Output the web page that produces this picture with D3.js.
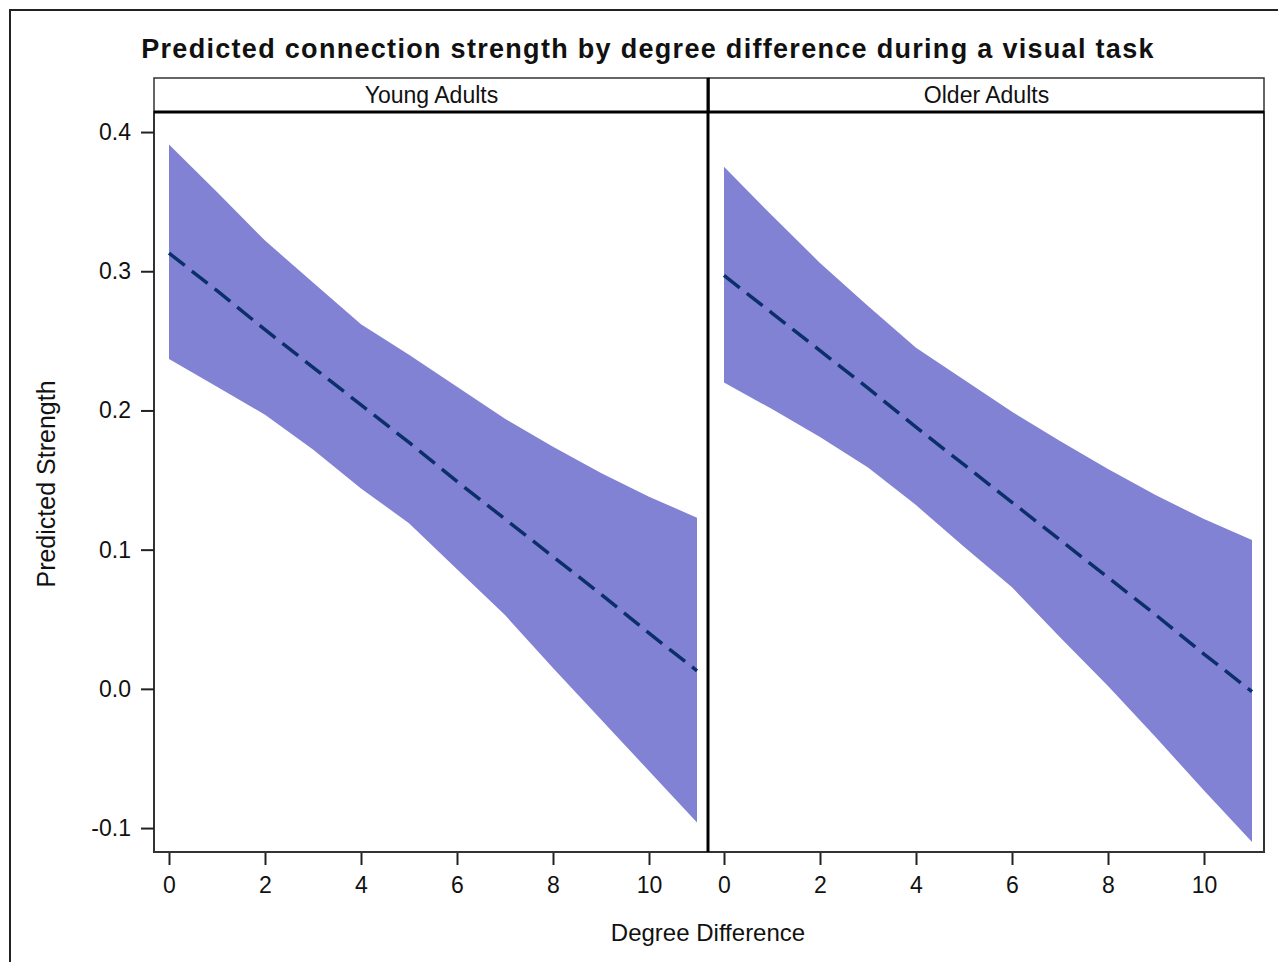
<!DOCTYPE html>
<html>
<head>
<meta charset="utf-8">
<script src="https://cdn.jsdelivr.net/npm/d3@7"></script>
<style>
  body { margin: 0; background: #fff; }
  svg text { font-family: "Liberation Sans", Arial, sans-serif; fill: #111; }
</style>
</head>
<body>
<div id="chart"></div>
<script>
// values, one per integer degree difference
const degrees = [0, 1, 2, 3, 4, 5, 6, 7, 8, 9, 10, 11];
const panelNames = ['Young Adults', 'Older Adults'];

const youngPred  = [0.313, 0.286, 0.258, 0.231, 0.204, 0.177, 0.149, 0.122, 0.095, 0.068, 0.040, 0.013];
const youngUpper = [0.391, 0.357, 0.322, 0.292, 0.262, 0.240, 0.217, 0.194, 0.174, 0.155, 0.138, 0.123];
const youngLower = [0.237, 0.217, 0.197, 0.172, 0.144, 0.119, 0.086, 0.053, 0.015, -0.022, -0.059, -0.096];

const olderPred  = [0.297, 0.270, 0.243, 0.216, 0.188, 0.161, 0.134, 0.107, 0.080, 0.053, 0.025, -0.002];
const olderUpper = [0.375, 0.340, 0.306, 0.275, 0.245, 0.222, 0.199, 0.178, 0.158, 0.139, 0.122, 0.107];
const olderLower = [0.220, 0.201, 0.181, 0.159, 0.132, 0.102, 0.073, 0.037, 0.002, -0.035, -0.073, -0.110];

const yTicks = [-0.1, 0.0, 0.1, 0.2, 0.3, 0.4];
const xTicks = [0, 2, 4, 6, 8, 10];

const W = 1278, H = 962;
const plotTop = 112, plotBottom = 852, stripTop = 78;
const panelX = [154, 709], panelW = 555;

const bandColor = '#8282d4';
const lineColor = '#0b2f6b';

const svg = d3.select('#chart').append('svg')
    .attr('width', W).attr('height', H);

// outer frame runs off the right and bottom of the picture
svg.append('rect')
    .attr('x', 10).attr('y', 10).attr('width', 1300).attr('height', 1000)
    .attr('fill', 'none').attr('stroke', '#222').attr('stroke-width', 2);

svg.append('text')
    .attr('x', 648).attr('y', 58)
    .attr('text-anchor', 'middle')
    .style('font-size', '27px').style('font-weight', 'bold')
    .style('letter-spacing', '1.3px')
    .text('Predicted connection strength by degree difference during a visual task');

const y = d3.scaleLinear().domain([-0.1172, 0.4144]).range([plotBottom, plotTop]);

const panels = [
  { name: panelNames[0], pred: youngPred, upper: youngUpper, lower: youngLower },
  { name: panelNames[1], pred: olderPred, upper: olderUpper, lower: olderLower }
];

panels.forEach((p, i) => {
  const x0 = panelX[i];
  const x = d3.scaleLinear().domain([-0.3125, 11.25]).range([x0, x0 + panelW]);
  const rows = degrees.map((d, k) => ({ d: d, pred: p.pred[k], hi: p.upper[k], lo: p.lower[k] }));

  const g = svg.append('g');

  g.append('path')
      .datum(rows)
      .attr('fill', bandColor)
      .attr('d', d3.area().x(r => x(r.d)).y0(r => y(r.lo)).y1(r => y(r.hi)));

  g.append('path')
      .datum(rows)
      .attr('fill', 'none')
      .attr('stroke', lineColor)
      .attr('stroke-width', 3.5)
      .attr('stroke-dasharray', '20,9')
      .attr('d', d3.line().x(r => x(r.d)).y(r => y(r.pred)));

  // x axis
  const xAxis = g.append('g')
      .attr('transform', `translate(0,${plotBottom})`)
      .call(d3.axisBottom(x).tickValues(xTicks).tickSize(13).tickSizeOuter(0).tickPadding(12));
  xAxis.select('.domain').remove();
  xAxis.selectAll('line').attr('stroke', '#222').attr('stroke-width', 2);
  xAxis.selectAll('text').style('font-size', '23px').attr('fill', '#111');

  // header strip
  g.append('rect')
      .attr('x', x0).attr('y', stripTop).attr('width', panelW).attr('height', plotTop - stripTop)
      .attr('fill', '#fff').attr('stroke', '#333').attr('stroke-width', 1.5);
  g.append('text')
      .attr('x', x0 + panelW / 2).attr('y', plotTop - 9)
      .attr('text-anchor', 'middle')
      .style('font-size', '23px')
      .text(p.name);
});

// plot frame
svg.append('rect')
    .attr('x', panelX[0]).attr('y', plotTop)
    .attr('width', panelW * 2).attr('height', plotBottom - plotTop)
    .attr('fill', 'none').attr('stroke', '#333').attr('stroke-width', 2);
svg.append('line')
    .attr('x1', panelX[0]).attr('x2', panelX[0] + panelW * 2)
    .attr('y1', plotTop).attr('y2', plotTop)
    .attr('stroke', '#000').attr('stroke-width', 3);
svg.append('line')
    .attr('x1', panelX[1] - 1).attr('x2', panelX[1] - 1)
    .attr('y1', stripTop).attr('y2', plotBottom)
    .attr('stroke', '#000').attr('stroke-width', 3);

// y axis
const yAxis = svg.append('g')
    .attr('transform', `translate(${panelX[0]},0)`)
    .call(d3.axisLeft(y).tickValues(yTicks).tickFormat(d => d.toFixed(1)).tickSize(13).tickSizeOuter(0).tickPadding(10));
yAxis.select('.domain').remove();
yAxis.selectAll('line').attr('stroke', '#222').attr('stroke-width', 2);
yAxis.selectAll('text').style('font-size', '23px').attr('fill', '#111');

svg.append('text')
    .attr('x', 708).attr('y', 941)
    .attr('text-anchor', 'middle')
    .style('font-size', '24px')
    .text('Degree Difference');

svg.append('text')
    .attr('transform', 'translate(55,484) rotate(-90)')
    .attr('text-anchor', 'middle')
    .style('font-size', '25px')
    .text('Predicted Strength');
</script>
</body>
</html>
